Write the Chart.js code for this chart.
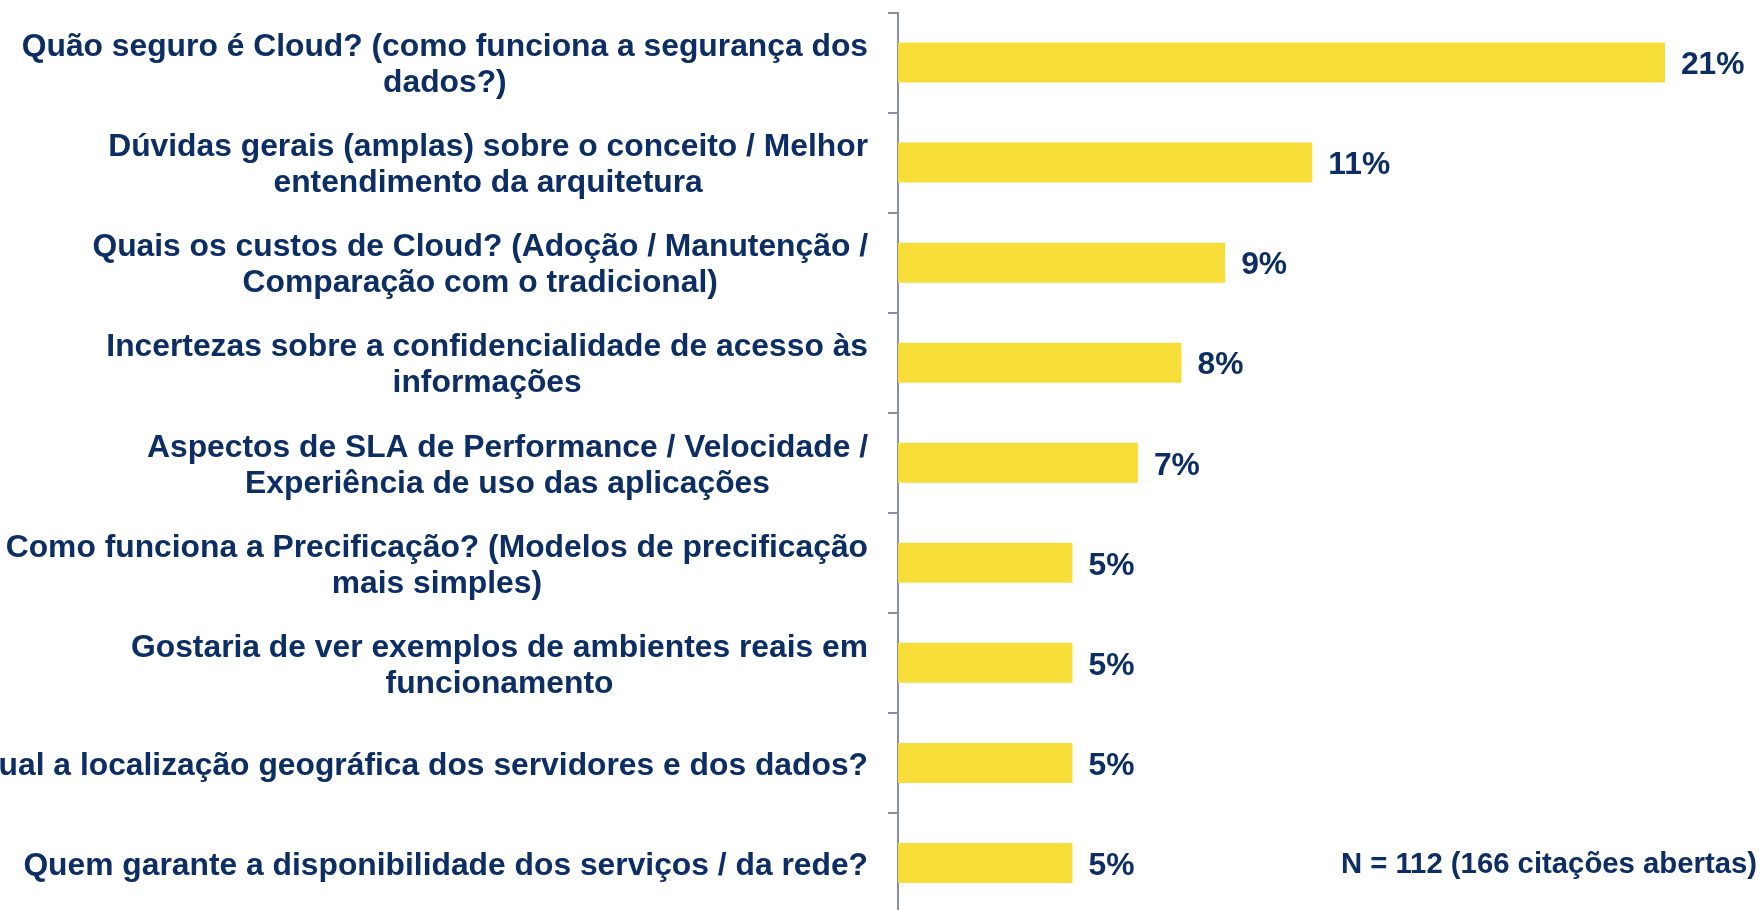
<!DOCTYPE html>
<html>
<head>
<meta charset="utf-8">
<script src="https://cdn.jsdelivr.net/npm/chart.js@4/dist/chart.umd.min.js"></script>
<style>
  html, body { margin: 0; padding: 0; background: #fff; overflow: hidden; }
  #wrap { width: 1760px; height: 914px; position: relative; }
</style>
</head>
<body>
<div id="wrap"><canvas id="duvidas"></canvas></div>
<script>
// categorias (quebras de linha como no original)
const categories = [
    ['Quão seguro é Cloud? (como funciona a segurança dos', 'dados?)'],
    ['Dúvidas gerais (amplas) sobre o conceito / Melhor', 'entendimento da arquitetura'],
    ['Quais os custos de Cloud? (Adoção / Manutenção /', 'Comparação com o tradicional)'],
    ['Incertezas sobre a confidencialidade de acesso às', 'informações'],
    ['Aspectos de SLA de Performance / Velocidade /', 'Experiência de uso das aplicações'],
    ['Como funciona a Precificação? (Modelos de precificação', 'mais simples)'],
    ['Gostaria de ver exemplos de ambientes reais em', 'funcionamento'],
    ['Qual a localização geográfica dos servidores e dos dados?'],
    ['Quem garante a disponibilidade dos serviços / da rede?']
];
const values = [21.1, 11.4, 9.0, 7.8, 6.6, 4.8, 4.8, 4.8, 4.8];
const valueLabels = ['21%', '11%', '9%', '8%', '7%', '5%', '5%', '5%', '5%'];
const noteText = 'N = 112 (166 citações abertas)';

const navy = '#0c2e64';
const yellow = '#f7dd37';
const axisGrey = '#8a8ea2';
const fontFamily = '"Liberation Sans", Arial, sans-serif';

// desenha rótulos das categorias, valores e a nota
const textPlugin = {
    id: 'textos',
    afterDraw(chart) {
        const ctx = chart.ctx;
        const yScale = chart.scales.y;
        const bars = chart.getDatasetMeta(0).data;
        ctx.save();
        ctx.fillStyle = navy;
        ctx.textBaseline = 'middle';

        ctx.font = 'bold 31.8px ' + fontFamily;
        const rightEdge = yScale.right - 30;
        const lineH = 36;
        categories.forEach((lines, i) => {
            const yc = yScale.getPixelForValue(i) + 3;
            const widest = Math.max(...lines.map(l => ctx.measureText(l).width));
            const cx = rightEdge - widest / 2;
            ctx.textAlign = 'center';
            lines.forEach((l, j) => {
                ctx.fillText(l, cx, yc + (j - (lines.length - 1) / 2) * lineH);
            });
        });

        ctx.textAlign = 'left';
        bars.forEach((bar, i) => {
            ctx.fillText(valueLabels[i], bar.x + 16, bar.y + 3);
        });

        ctx.font = 'bold 29.3px ' + fontFamily;
        ctx.textAlign = 'right';
        const last = bars[bars.length - 1];
        ctx.fillText(noteText, 1757, last.y + 2);
        ctx.restore();
    }
};

const ctx = document.getElementById('duvidas').getContext('2d');
const chart = new Chart(ctx, {
    type: 'bar',
    data: {
        labels: categories,
        datasets: [{
            data: values,
            backgroundColor: yellow,
            borderWidth: 0,
            barPercentage: 0.4,
            categoryPercentage: 1
        }]
    },
    options: {
        indexAxis: 'y',
        responsive: true,
        maintainAspectRatio: false,
        animation: false,
        layout: {
            padding: {top: 12.5, bottom: 1, left: 0, right: 26}
        },
        plugins: {
            legend: {display: false},
            tooltip: {enabled: false}
        },
        scales: {
            x: {
                display: false,
                min: 0,
                max: 23
            },
            y: {
                grid: {
                    offset: true,
                    drawOnChartArea: false,
                    drawTicks: true,
                    tickLength: 10,
                    color: axisGrey,
                    lineWidth: 2
                },
                border: {
                    display: true,
                    color: axisGrey,
                    width: 2
                },
                ticks: {display: false},
                afterFit(scale) {
                    scale.width = 898;
                }
            }
        }
    },
    plugins: [textPlugin]
});
</script>
</body>
</html>
